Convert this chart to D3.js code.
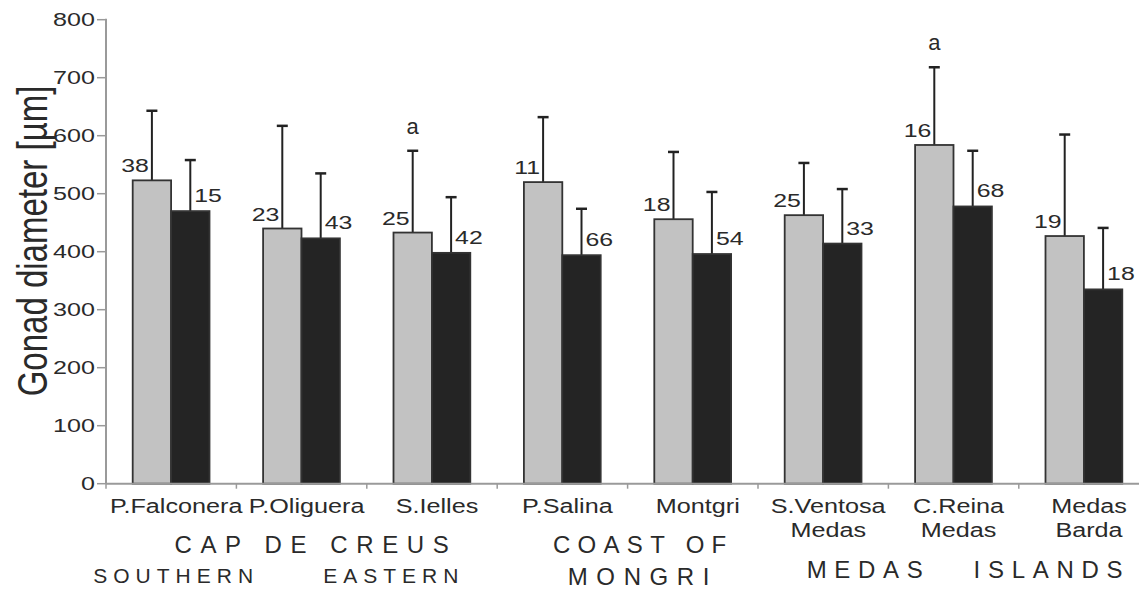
<!DOCTYPE html>
<html><head><meta charset="utf-8">
<script src="https://cdn.jsdelivr.net/npm/d3@7"></script>
<style>
html,body{margin:0;padding:0;background:#fff;overflow:hidden}
text{font-family:"Liberation Sans",Arial,Helvetica,sans-serif;fill:#2a2a2a}
</style></head>
<body>
<svg id="chart" width="1139" height="589"></svg>
<script>
// ---- data ----
const categories = ["P.Falconera","P.Oliguera","S.Ielles","P.Salina","Montgri","S.Ventosa\nMedas","C.Reina\nMedas","Medas\nBarda"];
const series = ["grey","black"];
const greyMean = [523,440,433,520,456,463,584,427];
const greyUpper = [643,617,574,632,572,553,718,602];
const blackMean = [470,423,398,394,396,414,478,335];
const blackUpper = [558,535,494,474,503,508,574,441];
const greyN = [38,23,25,11,18,25,16,19];
const blackN = [15,43,42,66,54,33,68,18];
const letters = ["","","a","","","","a",""];
const yTicks = [0,100,200,300,400,500,600,700,800];
const yLabel = "Gonad diameter [µm]";
const regionTexts = ["CAP DE CREUS","SOUTHERN","EASTERN","COAST OF","MONGRI","MEDAS   ISLANDS"];
const regionSpans = [[0,2],[0,0],[1,2],[3,4],[3,4],[5,7]];

// ---- layout ----
const svg = d3.select("#chart");
const left = 106, bandW = 130.4, y0px = 483.7, yTop = 19.7;
const x = d3.scaleBand().domain(categories).range([left, left + bandW*categories.length]).padding(0);
const xs = d3.scaleBand().domain(series).range([26.7, 103.5]).padding(0);
const y = d3.scaleLinear().domain([0,800]).range([y0px, yTop]);
const fills = {grey:"#c2c2c2", black:"#242424"};
const axisColor = "#9a9a9a";
const digitScale = 1.42;

// y axis
svg.append("line").attr("x1",left).attr("x2",left).attr("y1",yTop-1).attr("y2",y0px)
  .attr("stroke",axisColor).attr("stroke-width",2);
const yt = svg.append("g");
yTicks.forEach(t=>{
  yt.append("line").attr("x1",left-9).attr("x2",left).attr("y1",y(t)).attr("y2",y(t))
    .attr("stroke",axisColor).attr("stroke-width",1.5);
  yt.append("text").attr("transform",`translate(${left-11},${y(t)+6.3}) scale(${digitScale},1)`)
    .attr("text-anchor","end").attr("font-size",17.7).text(t);
});
svg.append("text").attr("transform",`translate(47,241) scale(1.3,1) rotate(-90)`)
  .attr("text-anchor","middle").attr("font-size",33).text(yLabel);

// bars
const data = categories.map((c,i)=>({c,i,vals:[
  {s:"grey",m:greyMean[i],u:greyUpper[i],n:greyN[i]},
  {s:"black",m:blackMean[i],u:blackUpper[i],n:blackN[i]}]}));

const g = svg.append("g");
data.forEach(d=>{
  d.vals.forEach(v=>{
    const bx = x(d.c)+xs(v.s), bw = xs.bandwidth(), cx = bx + bw/2;
    g.append("line").attr("x1",cx).attr("x2",cx).attr("y1",y(v.u)).attr("y2",y(v.m))
      .attr("stroke","#222").attr("stroke-width",2);
    g.append("line").attr("x1",cx-5.5).attr("x2",cx+5.5).attr("y1",y(v.u)).attr("y2",y(v.u))
      .attr("stroke","#222").attr("stroke-width",2.5);
    g.append("rect").attr("x",bx).attr("y",y(v.m)).attr("width",bw).attr("height",y(0)-y(v.m))
      .attr("fill",fills[v.s]).attr("stroke","#333").attr("stroke-width",1.8);
    if(v.s==="grey"){
      g.append("text").attr("transform",`translate(${cx-3},${y(v.m)-8}) scale(${digitScale},1)`)
        .attr("text-anchor","end").attr("font-size",17.5).text(v.n);
    } else {
      g.append("text").attr("transform",`translate(${cx+4},${y(v.m)-9}) scale(${digitScale},1)`)
        .attr("text-anchor","start").attr("font-size",17.5).text(v.n);
    }
  });
  if(letters[d.i]){
    const cx = x(d.c)+xs("grey")+xs.bandwidth()/2;
    g.append("text").attr("x",cx).attr("y",y(greyUpper[d.i])-17).attr("text-anchor","middle")
      .attr("font-size",22).text(letters[d.i]);
  }
});

// x axis
svg.append("line").attr("x1",left).attr("x2",x.range()[1]).attr("y1",y0px).attr("y2",y0px)
  .attr("stroke",axisColor).attr("stroke-width",2);
categories.concat([null]).forEach(c=>{
  const px = c===null ? x.range()[1] : x(c);
  svg.append("line").attr("x1",px).attr("x2",px).attr("y1",y0px).attr("y2",y0px+5)
    .attr("stroke",axisColor).attr("stroke-width",1.5);
});
categories.forEach(c=>{
  c.split("\n").forEach((ln,k)=>{
    svg.append("text").attr("text-anchor","middle").attr("font-size",21)
      .attr("transform",`translate(${x(c)+bandW/2+5},${513+k*24.2}) scale(1.2,1)`)
      .text(ln);
  });
});

// region labels
const regionStyle = [
  {size:24, ls:8.6, base:553, dx:10},
  {size:21, ls:6, base:583, dx:2},
  {size:21, ls:6, base:583, dx:24},
  {size:24, ls:7.3, base:553, dx:12},
  {size:24, ls:8.6, base:585, dx:11},
  {size:24, ls:7.7, base:578, dx:11}
];
regionTexts.forEach((txt,i)=>{
  const [a,b] = regionSpans[i], st = regionStyle[i];
  const cx = (x(categories[a]) + x(categories[b]) + bandW)/2 + st.dx + st.ls/2;
  svg.append("text").attr("x",cx).attr("y",st.base).attr("text-anchor","middle")
    .attr("font-size",st.size).attr("letter-spacing",st.ls).style("white-space","pre").text(txt);
});
</script>
</body></html>
